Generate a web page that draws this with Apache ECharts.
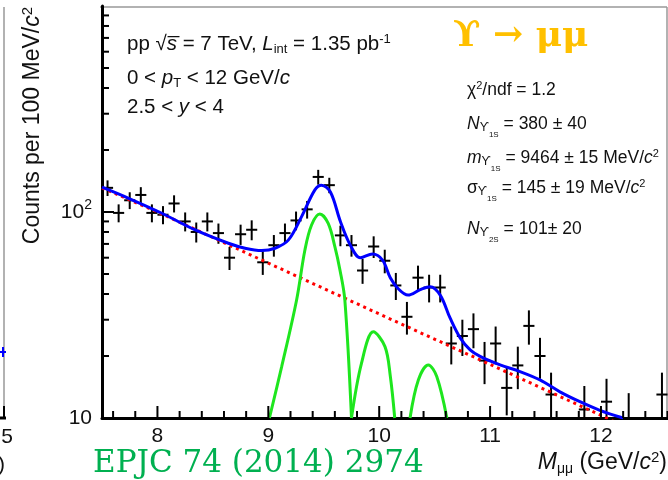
<!DOCTYPE html>
<html><head><meta charset="utf-8">
<script src="https://cdn.jsdelivr.net/npm/echarts@6/dist/echarts.min.js"></script>
<style>html,body{margin:0;padding:0;background:#fff}#c{width:668px;height:480px}</style>
</head><body><div id="c"></div>
<script>
// ---- data ----
const massBins = [7.55,7.65,7.75,7.85,7.95,8.05,8.15,8.25,8.35,8.45,8.55,8.65,8.75,8.85,8.95,9.05,9.15,9.25,9.35,9.45,9.55,9.65,9.75,9.85,9.95,10.05,10.15,10.25,10.35,10.45,10.55,10.65,10.75,10.85,10.95,11.05,11.15,11.25,11.35,11.45,11.55,11.65,11.75,11.85,11.95,12.05,12.15,12.25,12.35,12.45,12.55];
const counts = [131,99,114,121,99,97,110,90,80,90,79,60,78,82,57,69,79,91,103,148,135,77,69,52,68,58,44,31,48,43,43,23,25,27,19,23,14,18,28,20,13,6,6,11,6,12,5,10,6,6,13];
const countErrors = [11.4,9.9,10.7,11.0,9.9,9.8,10.5,9.5,8.9,9.5,8.9,7.7,8.8,9.1,7.5,8.3,8.9,9.5,10.1,12.2,11.6,8.8,8.3,7.2,8.2,7.6,6.6,5.6,6.9,6.6,6.6,4.8,5.0,5.2,4.4,4.8,3.7,4.2,5.3,4.5,3.6,2.4,2.4,3.3,2.4,3.5,2.2,3.2,2.4,2.4,3.6];
const binHalfWidth = 0.05;

const fitMass   = [7.5,7.74,8.04,8.34,8.64,8.79,8.94,9.06,9.18,9.3,9.42,9.48,9.56,9.65,9.74,9.83,9.94,10.03,10.1,10.17,10.26,10.37,10.46,10.55,10.64,10.73,10.82,10.91,11.09,11.27,11.45,11.63,11.81,11.99,12.2];
const fitCounts = [132,116.6,98.6,81.8,70.5,66.7,65,66.7,73,95,128,135,125,90,69,60,62.5,58.4,48,42.5,39.5,42,43.4,39.5,30.5,24.5,21.4,19.9,18.1,16.8,15.3,13.4,12,10.9,10];

const bkgMass   = [7.5,8,9,10,11,12,12.2];
const bkgCounts = [131,100,56.5,32,18.2,10.3,9.2];

const ups1Mass   = [9.01,9.12,9.255,9.33,9.39,9.465,9.54,9.6,9.646,9.69,9.75];
const ups1Counts = [10,17.7,37.4,65.4,86.5,97.7,88,67.9,52.3,37.4,10];
const ups2Mass   = [9.75,9.84,9.947,10.052,10.1,10.14];
const ups2Counts = [10,18.4,26.2,22.2,16,10];
const ups3Mass   = [10.278,10.353,10.443,10.519,10.61];
const ups3Counts = [10,15.3,18.1,15.9,10];

const xRange = [7.5, 12.6];
const yRange = [10, 1000];
const xMajorTicks = [8,9,10,11,12];
const xMinorTicks = [7.6,7.8,8.2,8.4,8.6,8.8,9.2,9.4,9.6,9.8,10.2,10.4,10.6,10.8,11.2,11.4,11.6,11.8,12.2,12.4,12.6];
const yMajorTicks = [10,100];
const yMinorTicks = [20,30,40,50,60,70,80,90,200,300,400,500,600,700,800,900];

// ---- styling ----
const FF = '"Liberation Sans", Arial, sans-serif';
const SERIF = '"DejaVu Serif", serif';
const INK = '#111';

function richSet(fs){
  return {
    i:   {fontFamily:FF, fontSize:fs, fontStyle:'italic', fill:INK, verticalAlign:'middle'},
    sup: {fontFamily:FF, fontSize:Math.round(fs*0.65), fill:INK, verticalAlign:'middle', padding:[0,0,Math.round(fs*0.45),0]},
    sub: {fontFamily:FF, fontSize:Math.round(fs*0.62), fill:INK, verticalAlign:'middle', padding:[Math.round(fs*0.5),0,0,0]},
    s1:  {fontFamily:FF, fontSize:Math.round(fs*0.66), fill:INK, verticalAlign:'middle', padding:[Math.round(fs*0.4),0,0,0]},
    s2:  {fontFamily:FF, fontSize:Math.round(fs*0.46), fill:INK, verticalAlign:'middle', padding:[Math.round(fs*1.2),0,0,0]},
    mu:  {fontFamily:FF, fontSize:Math.round(fs*0.6), fill:INK, verticalAlign:'middle', padding:[Math.round(fs*0.55),0,0,0]}
  };
}
function txt(x, y, text, fs){
  return {
    type:'text', x:x, y:y, silent:true,
    style:{text:text, fontFamily:FF, fontSize:fs, fill:INK,
      align:'left', verticalAlign:'middle', textAlign:'left', textVerticalAlign:'middle',
      rich:richSet(fs)}
  };
}
function tickSeries(points, dx, dy){
  return {
    type:'custom', silent:true, clip:false, z:6, xAxisIndex:0, yAxisIndex:0,
    data:points, encode:{x:0, y:1},
    renderItem:function(params, api){
      const c = api.coord([api.value(0), api.value(1)]);
      return {type:'line', shape:{x1:c[0], y1:c[1], x2:c[0]+dx, y2:c[1]+dy}, style:{stroke:'#000', lineWidth:2}};
    }
  };
}

const chart = echarts.init(document.getElementById('c'), null, {renderer:'canvas'});
const axisLabelBase = {fontFamily:FF, fontSize:21, color:INK};

chart.setOption({
  animation:false,
  backgroundColor:'#fff',
  grid:{left:102, top:6, width:565.5, height:412, containLabel:false},
  xAxis:{
    type:'value', min:xRange[0], max:xRange[1], position:'bottom',
    axisLine:{show:true, onZero:false, lineStyle:{color:'#000', width:3}},
    axisTick:{show:false},
    axisLabel:Object.assign({show:true, margin:8, customValues:xMajorTicks}, axisLabelBase),
    splitLine:{show:false}
  },
  yAxis:{
    type:'log', logBase:10, min:yRange[0], max:yRange[1], position:'left',
    axisLine:{show:true, onZero:false, lineStyle:{color:'#000', width:3}},
    axisTick:{show:false},
    axisLabel:Object.assign({show:true, margin:10, customValues:yMajorTicks,
      formatter:function(v){ return v >= 100 ? '10{sup|2}' : '10'; },
      rich:{sup:{fontFamily:FF, fontSize:14, color:INK, verticalAlign:'middle', padding:[0,0,14,0]}}
    }, axisLabelBase),
    splitLine:{show:false}
  },
  series:[
    {
      type:'custom', name:'data', clip:true, z:2,
      data:massBins.map((m,i)=>[m, counts[i], countErrors[i]]),
      encode:{x:0, y:1},
      renderItem:function(params, api){
        const m = api.value(0), v = api.value(1), e = api.value(2);
        const top = api.coord([m, v+e]), bot = api.coord([m, v-e]);
        const l = api.coord([m-binHalfWidth, v]), r = api.coord([m+binHalfWidth, v]);
        return {type:'group', children:[
          {type:'line', shape:{x1:top[0], y1:top[1], x2:bot[0], y2:bot[1]}, style:{stroke:'#000', lineWidth:2}},
          {type:'line', shape:{x1:l[0], y1:l[1], x2:r[0], y2:r[1]}, style:{stroke:'#000', lineWidth:2}}
        ]};
      }
    },
    {type:'line', name:'bkg', data:bkgMass.map((m,i)=>[m,bkgCounts[i]]), symbol:'none', clip:true, z:3,
      lineStyle:{color:'#ff0000', width:3, type:[3,4]}},
    {type:'line', name:'1S', data:ups1Mass.map((m,i)=>[m,ups1Counts[i]]), symbol:'none', smooth:0.35, clip:true, z:4,
      lineStyle:{color:'#1ee61e', width:3}},
    {type:'line', name:'2S', data:ups2Mass.map((m,i)=>[m,ups2Counts[i]]), symbol:'none', smooth:0.35, clip:true, z:4,
      lineStyle:{color:'#1ee61e', width:3}},
    {type:'line', name:'3S', data:ups3Mass.map((m,i)=>[m,ups3Counts[i]]), symbol:'none', smooth:0.35, clip:true, z:4,
      lineStyle:{color:'#1ee61e', width:3}},
    {type:'line', name:'fit', data:fitMass.map((m,i)=>[m,fitCounts[i]]), symbol:'none', smooth:0.35, clip:true, z:5,
      lineStyle:{color:'#0000ff', width:3}},
    // axis ticks (inside), drawn through the axes' own scales
    tickSeries(xMajorTicks.map(v=>[v, yRange[0]]), 0, -12),
    tickSeries(xMinorTicks.map(v=>[v, yRange[0]]), 0, -7),
    tickSeries(yMajorTicks.map(v=>[xRange[0], v]), 12, 0),
    tickSeries(yMinorTicks.map(v=>[xRange[0], v]), 7, 0)
  ],
  graphic:[
    // frame (top/right) and neighbouring panel edge
    {type:'line', silent:true, shape:{x1:100, y1:7, x2:667, y2:7}, style:{stroke:'#999', lineWidth:1.5}},
    {type:'line', silent:true, shape:{x1:667, y1:7, x2:667, y2:418}, style:{stroke:'#999', lineWidth:1.5}},
    {type:'line', silent:true, shape:{x1:4, y1:7, x2:4, y2:418}, style:{stroke:'#999', lineWidth:1.5}},
    {type:'line', silent:true, shape:{x1:0, y1:418, x2:6, y2:418}, style:{stroke:'#000', lineWidth:3}},
    {type:'line', silent:true, shape:{x1:4, y1:418, x2:4, y2:406}, style:{stroke:'#000', lineWidth:2}},
    {type:'line', silent:true, shape:{x1:0, y1:352, x2:6, y2:352}, style:{stroke:'#0000ff', lineWidth:2}},
    {type:'line', silent:true, shape:{x1:3, y1:347, x2:3, y2:357}, style:{stroke:'#0000ff', lineWidth:2}},
    {type:'text', x:7, y:437, silent:true, style:{text:'5', fontFamily:FF, fontSize:21, fill:INK, align:'center', verticalAlign:'middle', textAlign:'center', textVerticalAlign:'middle'}},
    txt(-2, 465, ')', 21),

    // y title
    {type:'text', x:33, y:7, rotation:Math.PI/2, silent:true,
      style:{text:'Counts per 100 MeV/{i|c}{sup|2}', fontFamily:FF, fontSize:23, fill:INK,
        align:'right', verticalAlign:'middle', textAlign:'right', textVerticalAlign:'middle', rich:richSet(23)}},
    // x title
    {type:'text', x:667, y:463, silent:true,
      style:{text:'{i|M}{mu|μμ} (GeV/{i|c}{sup|2})', fontFamily:FF, fontSize:23, fill:INK,
        align:'right', verticalAlign:'middle', textAlign:'right', textVerticalAlign:'middle', rich:richSet(23)}},

    // upper-left labels
    txt(127, 44, 'pp √{i|s\u0305} = 7 TeV, {i|L}{sub|int} = 1.35 pb{sup|-1}', 20.5),
    txt(127, 78, '0 < {i|p}{sub|T} < 12 GeV/{i|c}', 20.5),
    txt(127, 107, '2.5 < {i|y} < 4', 20.5),

    // fit results
    txt(467, 90, 'χ{sup|2}/ndf = 1.2', 17.5),
    txt(467, 124, '{i|N}{s1|ϒ}{s2|1S} = 380 ± 40', 17.5),
    txt(467, 158, '{i|m}{s1|ϒ}{s2|1S} = 9464 ± 15 MeV/{i|c}{sup|2}', 17.5),
    txt(467, 188, 'σ{s1|ϒ}{s2|1S} = 145 ± 19 MeV/{i|c}{sup|2}', 17.5),
    txt(467, 229, '{i|N}{s1|ϒ}{s2|2S} = 101± 20', 17.5),

    // slide annotations
    {type:'text', x:453, y:37, silent:true,
      style:{text:'ϒ → μμ', fontFamily:SERIF, fontSize:36, fontWeight:'bold', fill:'#ffc000',
        align:'left', verticalAlign:'middle', textAlign:'left', textVerticalAlign:'middle'}},
    {type:'text', x:93, y:464, silent:true,
      style:{text:'EPJC 74 (2014) 2974', fontFamily:SERIF, fontSize:31, fill:'#00b050',
        align:'left', verticalAlign:'middle', textAlign:'left', textVerticalAlign:'middle'}}
  ]
});
</script></body></html>
